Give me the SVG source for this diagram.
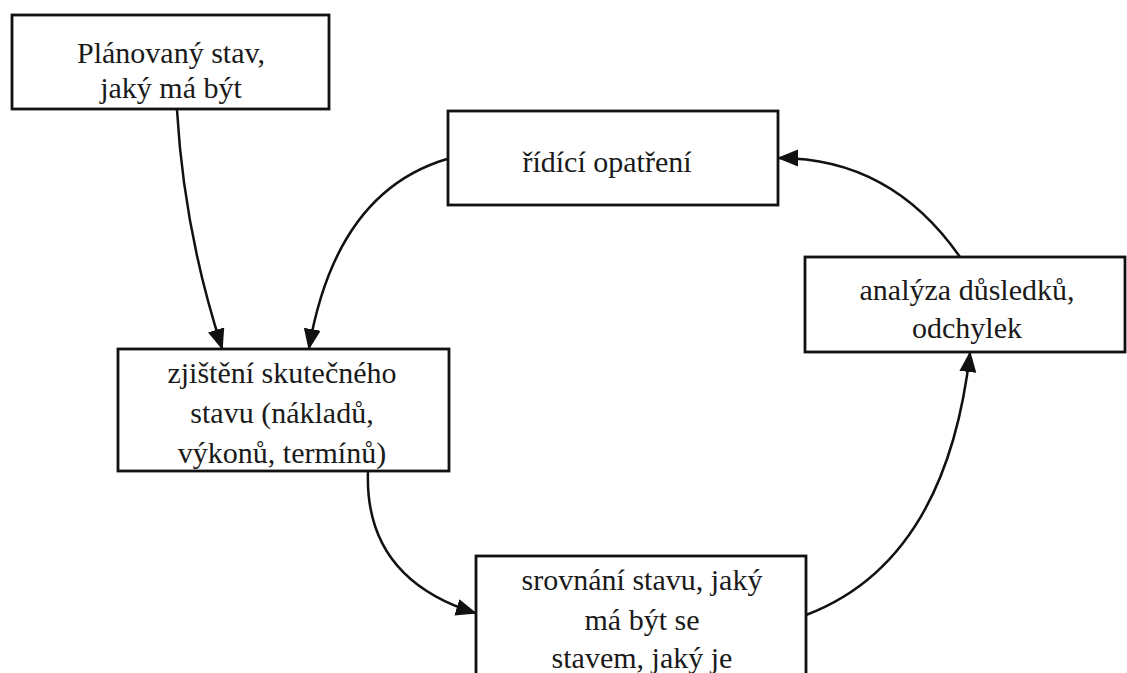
<svg xmlns="http://www.w3.org/2000/svg" width="1127" height="673" viewBox="0 0 1127 673">
  <style>
    .box { fill: #fff; stroke: #111; stroke-width: 2.8; }
    .lbl { font-family: "Liberation Serif", "Times New Roman", serif; font-size: 30px; fill: #1a1a1a; text-anchor: middle; }
    .edge { fill: none; stroke: #111; stroke-width: 2.5; marker-end: url(#arrow); }
  </style>
  <defs>
    <marker id="arrow" markerUnits="userSpaceOnUse" markerWidth="22" markerHeight="18" refX="19" refY="8.5" orient="auto">
      <path d="M0,0 L21,8.5 L0,17 z" fill="#111"/>
    </marker>
  </defs>

  <rect width="1127" height="673" fill="#fff"/>

  <g id="connectors">
    <path class="edge" d="M177,110 Q184,231 222,348"/>
    <path class="edge" d="M447,159 Q336,192 309,348"/>
    <path class="edge" d="M368,471 Q364,578 475,613"/>
    <path class="edge" d="M806,615 Q946,562 970,353"/>
    <path class="edge" d="M960,257 Q891,158 779,158"/>
  </g>

  <g id="node-plan">
    <rect class="box" x="12" y="15" width="317" height="94"/>
    <text class="lbl" x="171" y="63">Plánovaný stav,</text>
    <text class="lbl" x="171" y="98">jaký má být</text>
  </g>

  <g id="node-ridici">
    <rect class="box" x="448" y="111" width="330" height="94"/>
    <text class="lbl" x="607" y="172">řídící opatření</text>
  </g>

  <g id="node-zjisteni">
    <rect class="box" x="118" y="349" width="331" height="122"/>
    <text class="lbl" x="282" y="383">zjištění skutečného</text>
    <text class="lbl" x="282" y="423">stavu (nákladů,</text>
    <text class="lbl" x="282" y="463">výkonů, termínů)</text>
  </g>

  <g id="node-analyza">
    <rect class="box" x="805" y="257" width="320" height="95"/>
    <text class="lbl" x="967" y="300">analýza důsledků,</text>
    <text class="lbl" x="967" y="338">odchylek</text>
  </g>

  <g id="node-srovnani">
    <rect class="box" x="476" y="556" width="330" height="140"/>
    <text class="lbl" x="642" y="590">srovnání stavu, jaký</text>
    <text class="lbl" x="642" y="630">má být se</text>
    <text class="lbl" x="642" y="668">stavem, jaký je</text>
  </g>
</svg>
